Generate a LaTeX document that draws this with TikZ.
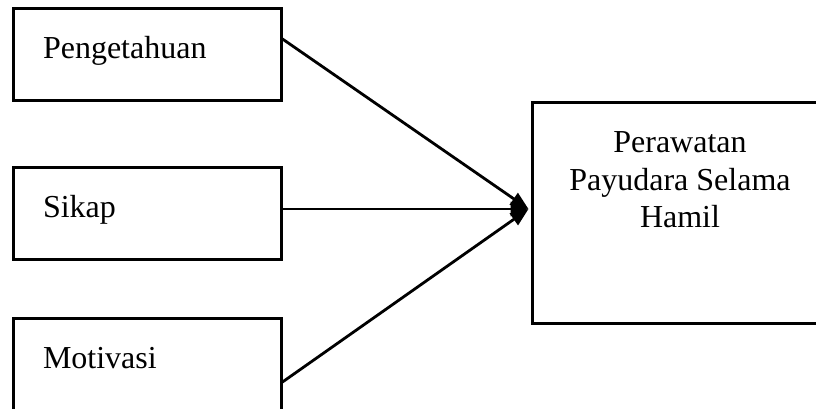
\documentclass[tikz,border=0pt]{standalone}
\usepackage{fontspec}
\setmainfont{Liberation Serif}
\usetikzlibrary{arrows.meta}

\begin{document}
\begin{tikzpicture}[x=1pt,y=-1pt,box/.style={draw,line width=3pt,inner sep=0pt,minimum width=268pt,minimum height=92pt,text width=208pt,align=left,text height=22pt,text depth=14pt,font=\fontsize{32}{37}\selectfont},goal/.style={draw,line width=3pt,inner sep=0pt,minimum width=296pt,minimum height=220pt,text height=22pt,text depth=142pt,font=\fontsize{32}{37}\selectfont},a/.style={-{Triangle[length=18pt,width=14pt]},line width=2.8pt}]
\useasboundingbox (0,0) rectangle (816,409);
\node[box] (peng) at (147,55) {Pengetahuan};
\node[box] (sikap) at (147,213.5) {Sikap};
\node[box] (moti) at (147,364) {Motivasi};
\node[goal] (rawat) at (680,213) {\begin{tabular}[t]{@{}c@{}}Perawatan\\Payudara Selama\\Hamil\end{tabular}};
\coordinate (tip) at ([xshift=-2pt,yshift=4pt]rawat.west);
\draw[a] ([yshift=16pt]peng.east) -- (tip);
\draw[a] (sikap.east |- tip) -- (tip);
\draw[a] ([yshift=-18pt]moti.east) -- (tip);
\end{tikzpicture}
\end{document}
